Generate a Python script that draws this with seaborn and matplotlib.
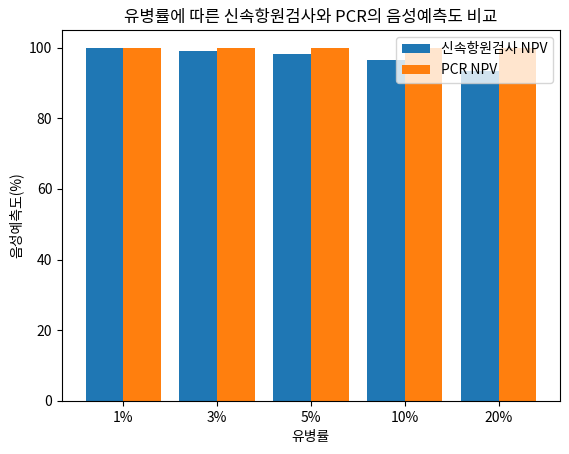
import pandas as pd
import matplotlib.pyplot as plt
import seaborn as sns

plt.rcParams['font.family'] = ['Noto Sans CJK KR', 'DejaVu Sans']
plt.rcParams['axes.unicode_minus'] = False

prevalence = ['1%', '3%', '5%', '10%', '20%']
rapid_npv = [99.9, 98.9, 98.3, 96.6, 93.3]
pcr_npv = [99.99, 99.97, 99.95, 99.9, 99.8]

df = pd.DataFrame({
    '유병률': prevalence * 2,
    'NPV': rapid_npv + pcr_npv,
    '검사': ['신속항원검사 NPV'] * 5 + ['PCR NPV'] * 5,
})

fig, ax = plt.subplots(figsize=(5.69, 4.54), dpi=100)
sns.barplot(data=df, x='유병률', y='NPV', hue='검사', palette=['#1f77b4', '#ff7f0e'],
            width=0.8, saturation=1, ax=ax)
ax.set_title('유병률에 따른 신속항원검사와 PCR의 음성예측도 비교')
ax.set_xlabel('유병률')
ax.set_ylabel('음성예측도(%)')
ax.set_xlim(-0.65, 4.65)
ax.legend(loc='upper right')
fig.subplots_adjust(left=0.109, right=0.984, top=0.934, bottom=0.117)
plt.savefig('out.png')
